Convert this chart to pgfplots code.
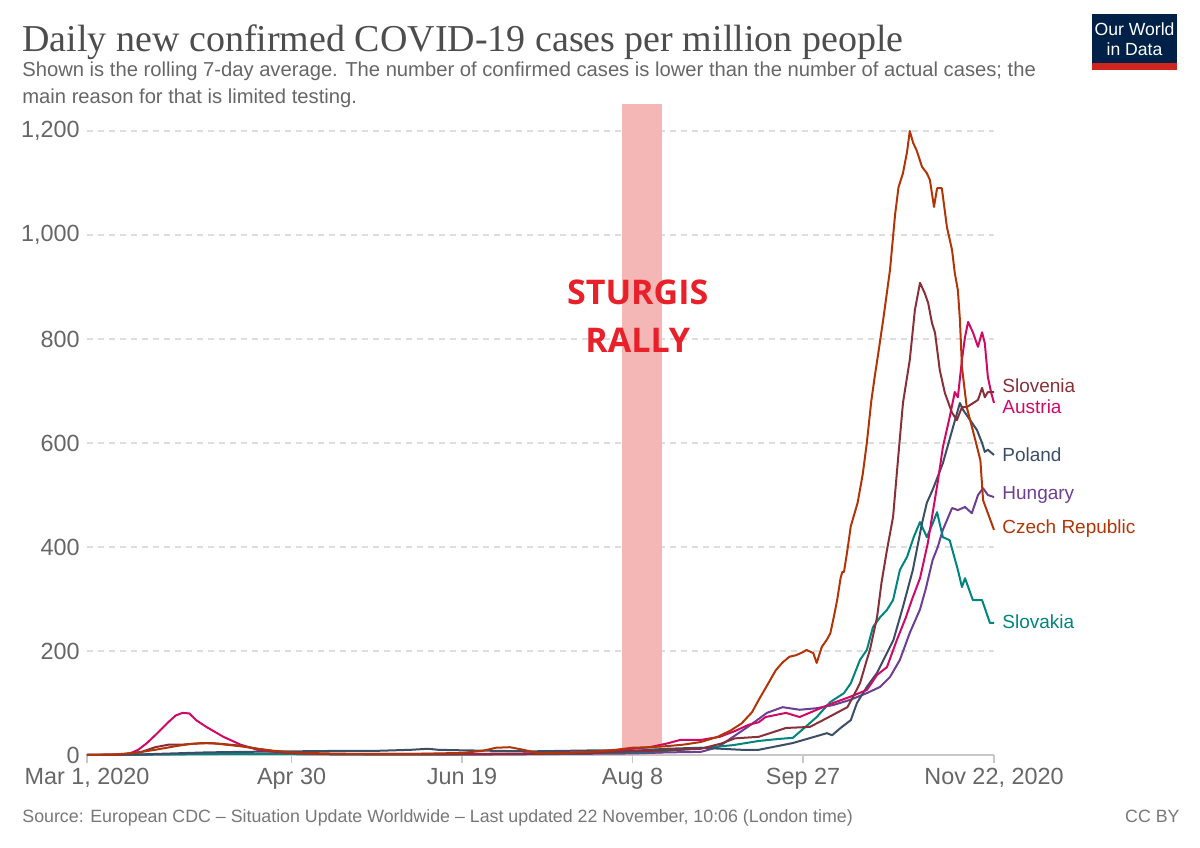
\documentclass[border=0pt]{standalone}
\usepackage{pgfplots}
\pgfplotsset{compat=1.18}
\usepackage{fontspec}
\setmainfont{Liberation Sans}
\newfontfamily\titlefont{Liberation Serif}
\newfontfamily\sturgisfont{Open Sans}
\definecolor{cCZ}{HTML}{B13507}
\definecolor{cSI}{HTML}{883039}
\definecolor{cAT}{HTML}{CF0A66}
\definecolor{cPL}{HTML}{3C4E66}
\definecolor{cHU}{HTML}{6D3E91}
\definecolor{cSK}{HTML}{00847E}
\definecolor{band}{HTML}{F5B6B6}
\definecolor{sturgis}{HTML}{E8202A}
\definecolor{titlegrey}{HTML}{4D4D4D}
\definecolor{subgrey}{HTML}{666666}
\definecolor{footgrey}{HTML}{777777}
\definecolor{gridgrey}{HTML}{DDDDDD}
\definecolor{axisgrey}{HTML}{C8C8C8}
\definecolor{owidnavy}{HTML}{002147}
\definecolor{owidred}{HTML}{CE261E}
\begin{document}
\begin{tikzpicture}
\path[use as bounding box] (0pt,0pt) rectangle (600pt,423.5pt);
% title and subtitle
\node[anchor=base west, inner sep=0, text=titlegrey, font=\titlefont\fontsize{19}{21}\selectfont] at (11pt,397.5pt) {Daily new confirmed COVID-19 cases per million people};
\node[anchor=base west, inner sep=0, text=subgrey, font=\fontsize{10.1}{12}\selectfont] at (11pt,385pt) {Shown is the rolling 7-day average. The number of confirmed cases is lower than the number of actual cases; the};
\node[anchor=base west, inner sep=0, text=subgrey, font=\fontsize{10.1}{12}\selectfont] at (11pt,371.5pt) {main reason for that is limited testing.};
% footer
\node[anchor=base west, inner sep=0, text=footgrey, font=\fontsize{8.9}{10}\selectfont] at (11pt,12.5pt) {Source: European CDC -- Situation Update Worldwide -- Last updated 22 November, 10:06 (London time)};
\node[anchor=base east, inner sep=0, text=footgrey, font=\fontsize{8.9}{10}\selectfont] at (590pt,12.5pt) {CC BY};
% logo
\fill[owidnavy] (546pt,388.5pt) rectangle (588.5pt,416.5pt);
\fill[owidred] (546pt,388.5pt) rectangle (588.5pt,392pt);
\node[inner sep=0, text=white, font=\fontsize{8.8}{9}\selectfont] at (567.25pt,409pt) {Our World};
\node[inner sep=0, text=white, font=\fontsize{8.8}{9}\selectfont] at (567.25pt,399pt) {in Data};
\begin{axis}[
  at={(43.5pt,46pt)}, anchor=south west,
  width=453.5pt, height=325.5pt, scale only axis,
  xmin=0, xmax=266, ymin=0, ymax=1252,
  clip=false,
  axis lines=left,
  axis line style={-},
  y axis line style={draw=none},
  x axis line style={draw=axisgrey, line width=0.7pt},
  xtick={0,60,110,160,210,266},
  xticklabels={{Mar 1, 2020},{Apr 30},{Jun 19},{Aug 8},{Sep 27},{Nov 22, 2020}},
  ytick={0,200,400,600,800,1000,1200},
  xtick align=outside, ytick align=inside,
  major tick length=4pt,
  xtick style={draw=axisgrey, line width=0.7pt},
  ytick style={draw=none},
  ymajorgrids,
  grid style={draw=gridgrey, line width=0.6pt, dash pattern=on 3pt off 2.5pt},
  tick label style={text=subgrey, font=\fontsize{11.7}{13}\selectfont},
  yticklabel style={anchor=east, inner sep=0pt, xshift=-3.5pt},
  xticklabel style={inner sep=0pt, yshift=-2.5pt, anchor=north},
  /pgf/number format/.cd, 1000 sep={,}, assume math mode=true,
]
\fill[band] (axis cs:156.9,0) rectangle (axis cs:168.6,1252);
\node[text=sturgis, font=\sturgisfont\bfseries\fontsize{17}{20}\selectfont, align=center, inner sep=0] at (axis cs:161.5,843) {STURGIS\\[4pt]RALLY};

% Hungary
\addplot[cHU, line width=1pt, line join=round] coordinates {
(0,0) (20,1) (30,2) (40,3) (50,2) (60,2) (80,1) (100,1) (120,1) (140,2) (160,3) (170,5) (180,6)
(185,15) (189.5,35) (194,55) (199.4,81) (204,92) (209,87) (214,90) (218.8,96) (223.8,106)
(228.7,119) (232.6,131) (235.5,150) (238.4,183) (241.3,235) (244.3,280) (246,320) (248,375)
(249.5,400) (251,433) (253.7,475) (255.4,471) (257.5,477) (259.5,465) (261.3,500) (262.8,513)
(264.2,500) (266,496)};
% Slovakia
\addplot[cSK, line width=1pt, line join=round] coordinates {
(0,0) (20,1) (40,2) (60,2) (80,1) (100,1) (120,2) (140,3) (160,5) (170,8) (180,13) (189.5,19)
(197,27) (203,31) (207,33) (210,50) (214,73) (218,102) (222,119) (224,138) (226.7,183) (228.7,202)
(230.5,246) (232.6,265) (234.6,279) (236.4,298) (238.4,356) (240.5,381) (242.5,420) (244.3,448)
(246.3,419) (248,445) (249.3,467) (251,419) (253,413) (255.4,356) (256.6,323) (257.5,340)
(259.8,298) (262.5,298) (264.8,254) (266,254)};
% Poland
\addplot[cPL, line width=1pt, line join=round] coordinates {
(0,0) (15,1) (25,3) (35,5) (45,6) (60,7) (75,8) (85,8) (95,10) (100,12) (103,10) (110,9)
(120,8) (130,7) (140,8) (150,9) (160,8) (170,12) (180,14) (186,12) (192,10) (197,10) (207,23)
(217,42) (218.5,38) (221,52) (224,67) (225.8,100) (228.7,131) (231.7,158) (234.6,196) (236.5,221)
(239.3,285) (242.2,356) (244.9,446) (246.3,485) (248,510) (251,561) (254,631) (256,677)
(257,663) (259,644) (261,625) (262.5,600) (263.3,583) (264.2,587) (266,577)};
% Austria
\addplot[cAT, line width=1pt, line join=round] coordinates {
(0,0) (10,1) (12.6,3) (15,10) (17.6,23) (20,38) (23.5,61) (26,76) (28,81) (30,80) (32,67)
(35,54) (40,35) (45,20) (50,10) (55,6) (60,4) (70,2) (90,2) (110,2) (130,3) (150,6) (160,12)
(165,15) (170,22) (174,29) (180,29) (185.6,35) (190,46) (194,58) (197,63) (199,73) (205,81)
(209,73) (214,87) (218.8,100) (223.8,112) (228.7,125) (231.7,154) (234.6,169) (237.5,221)
(240,262) (242,300) (244.3,340) (246.6,408) (248,465) (249.6,529) (251,592) (253,650)
(254.5,698) (255.4,688) (256.6,760) (257.5,804) (258.4,833) (259.8,813) (261.3,785)
(262.5,813) (263.3,792) (264.2,727) (265.2,696) (266,677)};
% Slovenia
\addplot[cSI, line width=1pt, line join=round] coordinates {
(0,0) (10,1) (16,6) (20,15) (24,20) (28,20) (32,22) (36,23) (40,21) (45,18) (50,12) (55,7)
(60,4) (70,2) (90,1) (110,1) (130,2) (150,4) (160,7) (170,9) (180,12) (186,22) (190,32)
(197,35) (205,52) (212,54) (217,71) (223,92) (224.5,110) (226.7,138) (228.7,183) (229.6,202)
(231.7,265) (233,331) (234.6,394) (236.4,458) (238,580) (239.3,677) (241.3,760) (242.8,856)
(244.3,908) (245.7,888) (246.7,869) (247.8,831) (248.7,812) (250.1,740) (251.6,696)
(253.7,658) (255.1,644) (256.6,669) (258,669) (260.4,679) (261.3,683) (262.5,706)
(263.3,688) (264.2,698) (266,698)};
% Czech Republic
\addplot[cCZ, line width=1pt, line join=round] coordinates {
(0,0) (8,1) (14,4) (20,10) (26,17) (30,21) (34,23) (38,22) (42,19) (46,16) (50,12) (55,8)
(60,5) (70,3) (80,2) (95,2) (110,4) (116,8) (120,14) (124,15) (128,10) (132,4) (140,4)
(148,6) (155,10) (160,14) (165,15) (170,17) (175,20) (180,25) (185,35) (189,48) (192,61)
(195,82) (197,106) (200,140) (202,163) (204,178) (206,189) (208,192) (210,198) (211,202)
(213,196) (214,177) (215.5,208) (217,222) (218,234) (219,265) (220,298) (221,340)
(221.5,352) (222,352) (223,394) (224,440) (226,485) (227.5,540) (228.7,600) (230,680)
(231,727) (232,770) (233.5,837) (235.5,933) (237,1040) (238,1092) (239.3,1119) (240.5,1160)
(241.3,1200) (242.3,1177) (243.3,1163) (244.9,1131) (246.3,1119) (247.2,1106) (248.4,1054)
(249.3,1090) (250.7,1090) (252.2,1015) (253.7,971) (254.5,927) (255.4,894) (256,837)
(256.6,746) (258,669) (260,619) (262,567) (262.8,490) (264.2,465) (266,433)};

% end labels
\node[anchor=west, inner sep=0, xshift=4pt, text=cSI, font=\fontsize{9.5}{11}\selectfont] at (axis cs:266,711) {Slovenia};
\node[anchor=west, inner sep=0, xshift=4pt, text=cAT, font=\fontsize{9.5}{11}\selectfont] at (axis cs:266,669) {Austria};
\node[anchor=west, inner sep=0, xshift=4pt, text=cPL, font=\fontsize{9.5}{11}\selectfont] at (axis cs:266,577) {Poland};
\node[anchor=west, inner sep=0, xshift=4pt, text=cHU, font=\fontsize{9.5}{11}\selectfont] at (axis cs:266,500) {Hungary};
\node[anchor=west, inner sep=0, xshift=4pt, text=cCZ, font=\fontsize{9.5}{11}\selectfont] at (axis cs:266,436) {Czech Republic};
\node[anchor=west, inner sep=0, xshift=4pt, text=cSK, font=\fontsize{9.5}{11}\selectfont] at (axis cs:266,256) {Slovakia};
\end{axis}
\end{tikzpicture}
\end{document}
